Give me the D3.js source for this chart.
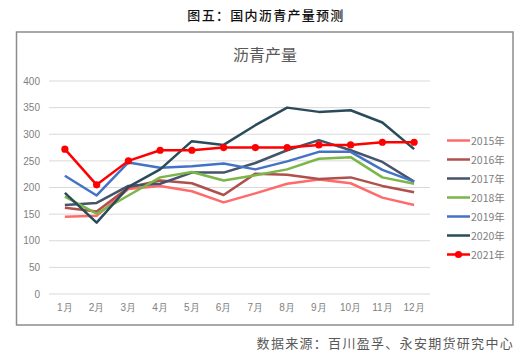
<!DOCTYPE html>
<html><head><meta charset="utf-8">
<script src="https://cdn.jsdelivr.net/npm/d3@7"></script>
<style>body{margin:0;background:#fff;}svg{display:block;font-family:"Noto Sans CJK SC","Noto Sans",sans-serif;}</style>
</head><body><svg id="c" width="532" height="355"></svg>
<script>
const months = ["1月","2月","3月","4月","5月","6月","7月","8月","9月","10月","11月","12月"];
const yTicks = [0,50,100,150,200,250,300,350,400];
const seriesNames = ["2015年","2016年","2017年","2018年","2019年","2020年","2021年"];
const s2015 = [145,147,197,203,193,172,189,207,215,208,181,167];
const s2016 = [162,155,200,213,208,186,226,224,216,219,203,191];
const s2017 = [167,171,203,207,228,228,246,270,289,270,248,211];
const s2018 = [183,151,185,219,229,213,223,234,254,257,219,207];
const s2019 = [222,185,247,237,240,245,234,249,267,267,233,211];
const s2020 = [190,134,201,234,287,280,317,350,342,345,322,272];
const s2021 = [272,205,250,270,270,275,275,275,280,280,285,285];
const seriesValues = [s2015,s2016,s2017,s2018,s2019,s2020,s2021];
const colors = ["#ff6b6b","#b0504d","#44546a","#7ab648","#4472c4","#2a4b5a","#ff0000"];

const svg = d3.select("#c");
svg.append("text").attr("x",266).attr("y",20).attr("text-anchor","middle")
  .attr("font-size",13).attr("font-weight","500").attr("letter-spacing","1.3").attr("fill","#111").text("图五：国内沥青产量预测");
svg.append("rect").attr("x",16.5).attr("y",32).attr("width",496.5).attr("height",293)
  .attr("fill","none").attr("stroke","#8c8c8c").attr("stroke-width",1.5);
svg.append("text").attr("x",265).attr("y",61).attr("text-anchor","middle")
  .attr("font-size",16).attr("fill","#595959").text("沥青产量");
svg.append("text").attr("x",514).attr("y",348).attr("text-anchor","end")
  .attr("font-size",13).attr("fill","#595959").attr("letter-spacing","1.3").text("数据来源：百川盈孚、永安期货研究中心");

const x = d3.scaleBand().domain(months).range([49,430]);
const y = d3.scaleLinear().domain([0,400]).range([294,81]);

const g = svg.append("g");
g.selectAll(".grid").data(yTicks).enter().append("line")
  .attr("x1",49).attr("x2",430).attr("y1",d=>y(d)).attr("y2",d=>y(d))
  .attr("stroke","#d9d9d9").attr("stroke-width",1);

const yAxis = g.append("g").attr("transform","translate(49,0)")
  .call(d3.axisLeft(y).tickValues(yTicks).tickSize(0).tickPadding(9));
yAxis.select(".domain").remove();
yAxis.selectAll("text").attr("font-size",10).attr("fill","#808080").attr("font-family","Liberation Sans, Arial, sans-serif");

const xAxis = g.append("g").attr("transform","translate(0,294)")
  .call(d3.axisBottom(x).tickSize(0).tickPadding(10));
xAxis.select(".domain").remove();
xAxis.selectAll("text").attr("font-size",10).attr("fill","#808080");

const line = d3.line().x((d,i)=>x(months[i])+x.bandwidth()/2).y(d=>y(d));
seriesValues.forEach((vals,k)=>{
  g.append("path").datum(vals).attr("d",line).attr("fill","none")
    .attr("stroke",colors[k]).attr("stroke-width",2.5).attr("stroke-linejoin","round");
});
g.selectAll(".dot").data(s2021).enter().append("circle")
  .attr("cx",(d,i)=>x(months[i])+x.bandwidth()/2).attr("cy",d=>y(d)).attr("r",3.6).attr("fill","#ff0000");

const leg = svg.append("g");
seriesNames.forEach((n,k)=>{
  const yy = 140.5 + k*19;
  leg.append("line").attr("x1",447).attr("x2",470).attr("y1",yy).attr("y2",yy)
    .attr("stroke",colors[k]).attr("stroke-width",2.5);
  if(k===6) leg.append("circle").attr("cx",458.5).attr("cy",yy).attr("r",3.6).attr("fill",colors[k]);
  leg.append("text").attr("x",471).attr("y",yy+4).attr("font-size",10.5).attr("fill","#808080").text(n);
});
</script></body></html>
